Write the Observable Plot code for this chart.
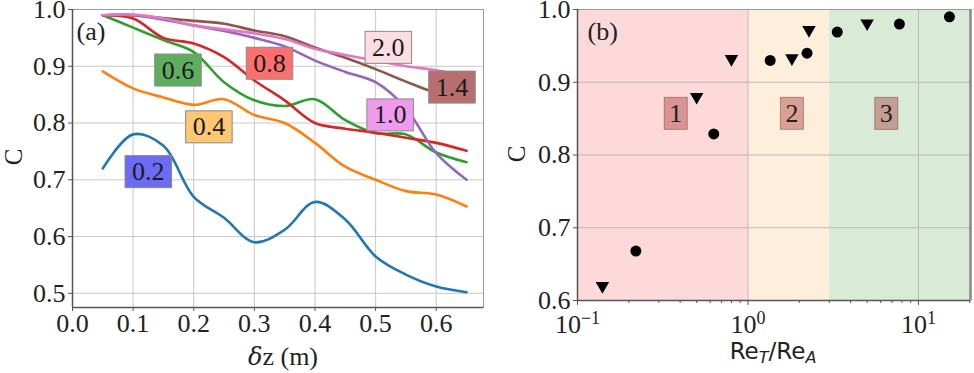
<!DOCTYPE html>
<html><head><meta charset="utf-8">
<script src="https://cdn.jsdelivr.net/npm/d3@7"></script>
<script src="https://cdn.jsdelivr.net/npm/@observablehq/plot@0.6"></script>
<style>
body{margin:0;background:#fff;width:974px;height:373px;overflow:hidden;position:relative;font-family:"Liberation Serif",serif;color:#222}
#a,#b{position:absolute;top:0}
#a{left:0}#b{left:490px}
.lbl{position:absolute;white-space:nowrap;line-height:1}
</style></head><body>
<div id="a"></div><div id="b"></div>
<div class="lbl" style="left:13px;top:157px;font-size:25px;transform:translate(-50%,-50%) rotate(-90deg);transform-origin:center">C</div>
<div class="lbl" style="left:283px;top:357px;font-size:26px;transform:translate(-50%,-50%)"><i style="font-family:'DejaVu Serif';font-size:24px">δ</i>z (m)</div>
<div class="lbl" style="left:516px;top:154px;font-size:25px;transform:translate(-50%,-50%) rotate(-90deg);transform-origin:center">C</div>
<div class="lbl" style="left:773px;top:353px;font-size:23px;font-family:'DejaVu Sans',sans-serif;transform:translate(-50%,-50%)">Re<sub style="font-size:16px;font-style:italic;vertical-align:-4px">T</sub>/Re<sub style="font-size:16px;font-style:italic;vertical-align:-4px">A</sub></div>
<script>
// ---------- Panel (a) data ----------
const dz = [0.05, 0.10, 0.15, 0.20, 0.25, 0.30, 0.35, 0.40, 0.45, 0.50, 0.55, 0.60, 0.65];
const C_02 = [0.720, 0.780, 0.760, 0.670, 0.633, 0.590, 0.612, 0.661, 0.630, 0.565, 0.533, 0.512, 0.502];
const C_04 = [0.891, 0.861, 0.845, 0.832, 0.842, 0.814, 0.800, 0.765, 0.723, 0.700, 0.680, 0.674, 0.653];
const C_06 = [0.990, 0.968, 0.946, 0.925, 0.872, 0.840, 0.830, 0.842, 0.805, 0.782, 0.780, 0.748, 0.731];
const C_08 = [0.990, 0.984, 0.950, 0.940, 0.916, 0.875, 0.840, 0.800, 0.790, 0.783, 0.774, 0.765, 0.751];
const C_10 = [0.990, 0.990, 0.982, 0.972, 0.962, 0.950, 0.935, 0.910, 0.890, 0.872, 0.826, 0.747, 0.700];
const C_14 = [0.990, 0.990, 0.985, 0.980, 0.975, 0.963, 0.953, 0.933, 0.915, 0.895, 0.873, 0.853, 0.842];
const C_20 = [0.990, 0.991, 0.984, 0.972, 0.965, 0.958, 0.948, 0.931, 0.920, 0.910, 0.900, 0.893, 0.882];
const seriesNames = ["0.2", "0.4", "0.6", "0.8", "1.0", "1.4", "2.0"];
const seriesValues = [C_02, C_04, C_06, C_08, C_10, C_14, C_20];
const seriesColors = ["#1f77b4", "#ff7f0e", "#2ca02c", "#d62728", "#9467bd", "#8c564b", "#e377c2"];
const labelX = [0.125, 0.225, 0.174, 0.325, 0.524, 0.626, 0.521];
const labelY = [0.714, 0.793, 0.893, 0.905, 0.814, 0.863, 0.933];
const labelFill = ["#6b6bf6", "#fdc774", "#5fae5f", "#fc6f6f", "#ee9bee", "#b86e6e", "#fbdde3"];
const xTicksA = [0.0, 0.1, 0.2, 0.3, 0.4, 0.5, 0.6];
const yTicksA = [0.5, 0.6, 0.7, 0.8, 0.9, 1.0];

// ---------- Panel (b) data ----------
const triX = [0.14, 0.50, 0.80, 1.81, 2.28, 5.0];
const triC = [0.62, 0.88, 0.932, 0.933, 0.972, 0.981];
const cirX = [0.22, 0.63, 1.35, 2.22, 3.34, 7.73, 15.2];
const cirC = [0.668, 0.829, 0.93, 0.94, 0.969, 0.98, 0.99];
const regionStart = [0.1, 1, 3];
const regionEnd = [1, 3, 20.2];
const regionFill = ["#fdd9d9", "#feefdd", "#d9ebd7"];
const regionNames = ["1", "2", "3"];
const regionLabelX = [0.377, 1.81, 6.48];
const regionLabelY = [0.857, 0.857, 0.857];
const xMajorB = [0.1, 1, 10];
const xMajorLabels = ["10^−1", "10^0", "10^1"];
const xMinorB = [0.2,0.3,0.4,0.5,0.6,0.7,0.8,0.9,2,3,4,5,6,7,8,9,20];
const yTicksB = [0.6, 0.7, 0.8, 0.9, 1.0];

const FONT = "Liberation Serif";
const FS = 26;

function addBoxes(svg, fills, stroke, padX, padY) {
  const g = svg.querySelector('g[aria-label="text"]');
  if (!g) return;
  g.querySelectorAll("text").forEach((t, i) => {
    const bb = t.getBBox();
    const r = document.createElementNS("http://www.w3.org/2000/svg", "rect");
    r.setAttribute("x", bb.x - padX);
    r.setAttribute("y", bb.y - padY);
    r.setAttribute("width", bb.width + 2 * padX);
    r.setAttribute("height", bb.height + 2 * padY);
    if (t.getAttribute("transform")) r.setAttribute("transform", t.getAttribute("transform"));
    r.setAttribute("fill", typeof fills === "function" ? fills(i) : fills[i]);
    r.setAttribute("stroke", stroke);
    r.setAttribute("stroke-width", 1);
    g.insertBefore(r, t);
  });
}
function setFont(svg) {
  svg.querySelectorAll('g[aria-label$="tick label"] text, g[aria-label="text"] text').forEach(t => {
    t.style.fontSize = FS + "px";
    t.style.fontFamily = FONT;
  });
}

// ---------- Panel (a) ----------
const rowsA = [];
seriesNames.forEach((s, k) => dz.forEach((x, i) => rowsA.push({x, C: seriesValues[k][i], s})));
const labelsA = seriesNames.map((s, i) => ({s, x: labelX[i], y: labelY[i]}));

const plotA = Plot.plot({
  width: 490, height: 373,
  marginLeft: 72, marginRight: 7, marginTop: 9, marginBottom: 66,
  style: {fontFamily: FONT, fontSize: FS + "px", color: "#222", background: "transparent", overflow: "visible"},
  x: {domain: [0, 0.678]},
  y: {domain: [0.475, 1.0]},
  color: {domain: seriesNames, range: seriesColors},
  marks: [
    Plot.gridX(xTicksA, {stroke: "#c8c8c8", strokeOpacity: 1, strokeWidth: 1}),
    Plot.gridY(yTicksA, {stroke: "#c8c8c8", strokeOpacity: 1, strokeWidth: 1}),
    Plot.frame({stroke: "#9a9a9a", strokeWidth: 1}),
    Plot.ruleX([0], {stroke: "#555", strokeWidth: 1.5}),
    Plot.ruleY([0.475], {stroke: "#555", strokeWidth: 1.5}),
    Plot.axisX(xTicksA, {tickSize: 4, tickPadding: 2, tickFormat: d3.format(".1f"), label: null, fontSize: FS, stroke: "#555"}),
    Plot.axisY(yTicksA, {tickSize: 4, tickPadding: 3, tickFormat: d3.format(".1f"), label: null, fontSize: FS, stroke: "#555"}),
    Plot.line(rowsA, {x: "x", y: "C", z: "s", stroke: "s", strokeWidth: 2.6, curve: "catmull-rom"}),
    Plot.text(labelsA, {x: "x", y: "y", text: "s", fontSize: FS, fill: "#1a1a1a"}),
    Plot.text(["(a)"], {frameAnchor: "top-left", dx: 4, dy: 12, fontSize: FS, fill: "#222", textAnchor: "start"})
  ]
});
document.getElementById("a").appendChild(plotA);
setFont(plotA);
addBoxes(plotA, labelFill, "#8a8a8a", 7, 1.5);

// ---------- Panel (b) ----------
const regions = regionNames.map((n, i) => ({x1: regionStart[i], x2: regionEnd[i], fill: regionFill[i]}));
const tris = triX.map((x, i) => ({x, C: triC[i]}));
const cirs = cirX.map((x, i) => ({x, C: cirC[i]}));
const labelsB = regionNames.map((n, i) => ({n, x: regionLabelX[i], y: regionLabelY[i]}));

const plotB = Plot.plot({
  width: 484, height: 373,
  marginLeft: 87, marginRight: 4, marginTop: 9, marginBottom: 73,
  style: {fontFamily: FONT, fontSize: FS + "px", color: "#222", background: "transparent", overflow: "visible"},
  x: {type: "log", domain: [0.1, 20.2]},
  y: {domain: [0.6, 1.0]},
  marks: [
    Plot.rect(regions, {x1: "x1", x2: "x2", y1: 0.6, y2: 1.0, fill: "fill"}),
    Plot.gridX([1, 10], {stroke: "#b8b8b8", strokeOpacity: 1, strokeWidth: 1}),
    Plot.gridY(yTicksB, {stroke: "#b8b8b8", strokeOpacity: 1, strokeWidth: 1}),
    Plot.frame({stroke: "#9a9a9a", strokeWidth: 1}),
    Plot.ruleX([20.2], {stroke: "#888", strokeWidth: 2.5}),
    Plot.ruleX([0.1], {stroke: "#555", strokeWidth: 1.5}),
    Plot.ruleY([0.6], {stroke: "#555", strokeWidth: 1.5}),
    Plot.axisX(xMinorB, {tickSize: 3, tickFormat: () => "", label: null, stroke: "#555"}),
    Plot.axisX(xMajorB, {tickSize: 5, tickPadding: 9, tickFormat: (d) => xMajorLabels[xMajorB.indexOf(d)], label: null, fontSize: FS, stroke: "#555"}),
    Plot.axisY(yTicksB, {tickSize: 4, tickPadding: 3, tickFormat: d3.format(".1f"), label: null, fontSize: FS, stroke: "#555"}),
    Plot.dot(cirs, {x: "x", y: "C", r: 5.5, fill: "#000", stroke: "none"}),
    Plot.dot(tris, {x: "x", y: "C", r: 5, symbol: "triangle", rotate: 180, fill: "#000", stroke: "none"}),
    Plot.text(labelsB, {x: "x", y: "y", text: "n", fontSize: FS, fill: "#222"}),
    Plot.text(["(b)"], {frameAnchor: "top-left", dx: 10, dy: 12, fontSize: FS, fill: "#222", textAnchor: "start"})
  ]
});
document.getElementById("b").appendChild(plotB);
setFont(plotB);
addBoxes(plotB, () => "rgba(165,42,42,0.4)", "rgba(120,60,60,0.5)", 5, 1.5);

// superscript exponents for log tick labels
plotB.querySelectorAll('g[aria-label="x-axis tick label"] text').forEach(t => {
  const s = t.textContent;
  if (!s.includes("^")) return;
  const [base, exp] = s.split("^");
  t.textContent = "";
  const b = document.createElementNS("http://www.w3.org/2000/svg", "tspan");
  b.textContent = base;
  const e = document.createElementNS("http://www.w3.org/2000/svg", "tspan");
  e.textContent = exp;
  e.setAttribute("dy", "-0.5em");
  e.style.fontSize = "18px";
  t.appendChild(b); t.appendChild(e);
});
</script>
</body></html>
